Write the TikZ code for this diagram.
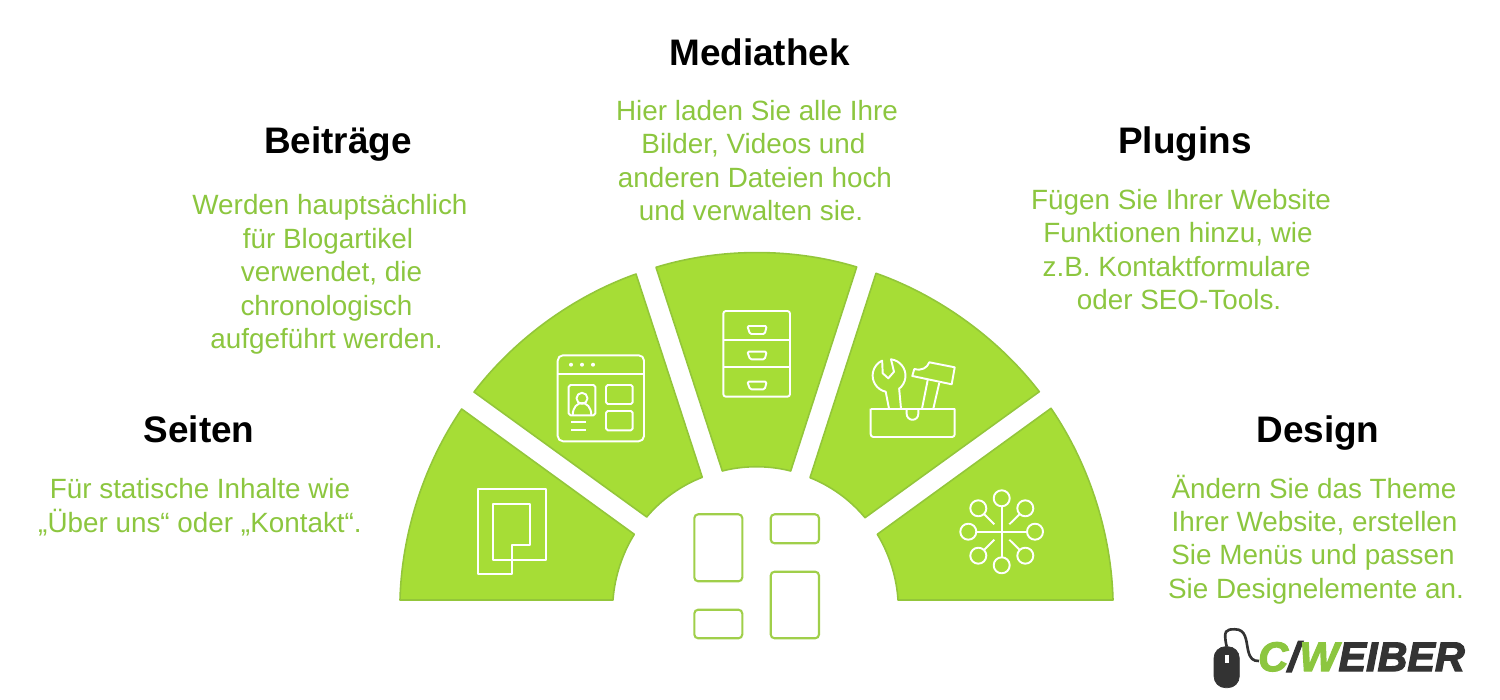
\documentclass[tikz,border=0pt]{standalone}
\usepackage{fontspec}
\setmainfont{Liberation Sans}
\newfontfamily\logofont[FakeBold=3]{Liberation Sans}
\definecolor{sectorfill}{HTML}{A6DD36}
\definecolor{sectorline}{HTML}{93C63A}
\definecolor{bodygreen}{HTML}{8CC63F}
\definecolor{slotline}{HTML}{A0CF4A}
\definecolor{logodark}{HTML}{333333}
\begin{document}
\begin{tikzpicture}[scale=0.2]
\tikzstyle{every node}+=[inner sep=0pt]
\tikzstyle{sector}=[fill=sectorfill,draw=sectorline,line width=0.9pt,line join=round]
\tikzstyle{icon}=[draw=white,line width=1.1pt,line join=round]
\tikzstyle{slot}=[draw=slotline,line width=1.2pt,rounded corners=2.2pt]
\tikzstyle{headtext}=[font=\bfseries\fontsize{21}{24}\selectfont,text=black]
\tikzstyle{bodytext}=[font=\fontsize{15.85}{19}\selectfont,text=bodygreen,align=center]
\useasboundingbox (0,0) rectangle (150,-70);
\draw [sector] (40,-60) to[bend left=16.5,looseness=.85] (46.17,-40.9) -- (63.43,-53.43) to[bend right=14,looseness=.85] (61.3,-60) -- cycle;
\draw [sector] (47.4,-39.2) to[bend left=16.5,looseness=.85] (63.6,-27.4) -- (70.23,-47.73) to[bend right=14.5,looseness=.85] (64.67,-51.7) -- cycle;
\draw [sector] (65.6,-26.73) to[bend left=17,looseness=.85] (85.67,-26.7) -- (79.07,-47.1) to[bend right=14.5,looseness=.85] (72.23,-47.1) -- cycle;
\draw [sector] (87.6,-27.33) to[bend left=16.5,looseness=.85] (103.93,-39.17) -- (86.5,-51.77) to[bend right=14.5,looseness=.85] (81,-47.77) -- cycle;
\draw [sector] (105.1,-40.83) to[bend left=16.5,looseness=.85] (111.3,-60) -- (89.8,-60) to[bend right=14,looseness=.85] (87.73,-53.43) -- cycle;
\draw [icon] (47.77,-48.9) -- (54.57,-48.9) -- (54.57,-56) -- (51.17,-56) -- (51.17,-57.43) -- (47.77,-57.43) -- cycle;
\draw [icon] (49.27,-50.4) -- (53.03,-50.4) -- (53.03,-54.5) -- (51.17,-54.5) -- (51.17,-56) -- (49.27,-56) -- cycle;
\draw [icon,rounded corners=3pt] (55.77,-35.53) rectangle (64.4,-44.13);
\draw [icon] (55.77,-37.4) -- (64.4,-37.4);
\fill [white] (57.1,-36.47) circle (0.2);
\fill [white] (58.2,-36.47) circle (0.2);
\fill [white] (59.3,-36.47) circle (0.2);
\draw [icon,rounded corners=1pt] (56.87,-38.5) rectangle (59.53,-41.53);
\draw [icon] (58.2,-39.83) circle (0.55);
\draw [icon] (57.27,-41.53) .. controls (57.27,-39.9) and (59.13,-39.9) .. (59.13,-41.53);
\draw [icon,rounded corners=1pt] (60.6,-38.5) rectangle (63.27,-40.4);
\draw [icon,rounded corners=1pt] (60.6,-41.1) rectangle (63.27,-43.03);
\draw [icon] (57.1,-42.23) -- (58.6,-42.23);
\draw [icon] (57.1,-42.97) -- (58.6,-42.97);
\draw [icon,rounded corners=1.5pt] (72.33,-31.1) rectangle (79,-39.67);
\draw [icon] (72.33,-34.03) -- (79,-34.03);
\draw [icon] (72.33,-36.73) -- (79,-36.73);
\draw [icon,rounded corners=0.8pt] (74.73,-32.6) -- (76.67,-32.6) -- (76.47,-33.4) -- (75,-33.4) -- cycle;
\draw [icon,rounded corners=0.8pt] (74.73,-35.17) -- (76.67,-35.17) -- (76.47,-35.93) -- (75,-35.93) -- cycle;
\draw [icon,rounded corners=0.8pt] (74.73,-38.17) -- (76.67,-38.17) -- (76.47,-38.93) -- (75,-38.93) -- cycle;
\draw [icon,rounded corners=1.5pt] (87.07,-40.87) -- (87.07,-43.7) -- (95.47,-43.7) -- (95.47,-40.87);
\draw [icon] (87.07,-40.87) -- (95.47,-40.87);
\draw [icon] (90.67,-40.87) -- (90.67,-41.4) arc (180:360:0.58) -- (91.83,-40.87);
\draw [icon] (92.2,-40.87) -- (92.77,-38);
\draw [icon] (93.33,-40.87) -- (93.93,-38.27);
\draw [icon] (91.23,-37.6) -- (91.43,-36.9) .. controls (92.2,-37.1) and (92.7,-36.8) .. (92.93,-36.23) -- (95.47,-36.73) -- (95.17,-38.43) -- cycle;
\draw [icon] (88.9,-40.87) -- (88.57,-39.17) arc (258:115:1.65) -- (88.27,-37.33) -- (88.83,-37.83) -- (89.4,-37.17) -- (89.1,-35.93) arc (83:-52:1.65) -- (90.1,-40.87);
\draw [icon] (100.17,-49.83) circle (0.8);
\draw [icon] (100.17,-56.53) circle (0.8);
\draw [icon] (103.5,-53.17) circle (0.8);
\draw [icon] (96.83,-53.17) circle (0.8);
\draw [icon] (102.53,-50.83) circle (0.8);
\draw [icon] (97.83,-50.83) circle (0.8);
\draw [icon] (102.53,-55.57) circle (0.8);
\draw [icon] (97.83,-55.57) circle (0.8);
\draw [icon] (100.17,-50.63) -- (100.17,-55.73);
\draw [icon] (97.63,-53.17) -- (102.7,-53.17);
\draw [icon] (98.4,-51.4) -- (99.43,-52.43);
\draw [icon] (101.97,-51.4) -- (100.93,-52.43);
\draw [icon] (98.4,-55) -- (99.43,-53.97);
\draw [icon] (101.97,-55) -- (100.93,-53.97);
\draw [slot] (69.43,-51.43) rectangle (74.23,-58.13);
\draw [slot] (69.43,-60.97) rectangle (74.23,-63.83);
\draw [slot] (77.07,-51.43) rectangle (81.9,-54.33);
\draw [slot] (77.07,-57.17) rectangle (81.9,-63.83);
\node [headtext] (seitenhead) at (19.9,-42.9) {Seiten};
\node [bodytext] (seitenbody) at (20,-50.7) {Für statische Inhalte wie\\„Über uns“ oder „Kontakt“.};
\node [headtext] (beitraegehead) at (33.8,-14.4) {Beiträge};
\node [bodytext] (beitraegebody) at (33,-27.45) {Werden hauptsächlich\\für Blogartikel\kern2.3pt\\\kern1.7pt verwendet, die\\chronologisch\kern4pt\\aufgeführt werden.\kern4pt};
\node [headtext] (mediathekhead) at (75.95,-5.2) {Mediathek};
\node [bodytext] (mediathekbody) at (75.7,-16.05) {Hier laden Sie alle Ihre\\Bilder, Videos und\kern4pt\\anderen Dateien hoch\kern2.3pt\\und verwalten sie.\kern6.8pt};
\node [headtext] (pluginshead) at (118.5,-14.4) {Plugins};
\node [bodytext] (pluginsbody) at (118.1,-24.95) {Fügen Sie Ihrer Website\\Funktionen hinzu, wie\kern3.4pt\\z.B. Kontaktformulare\kern5pt\\oder SEO-Tools.\kern2.3pt};
\node [headtext] (designhead) at (131.8,-43.3) {Design};
\node [bodytext] (designbody) at (131.6,-53.95) {Ändern Sie das Theme\kern2.3pt\\Ihrer Website, erstellen\kern1.7pt\\Sie Menüs und passen\kern3.4pt\\Sie Designelemente an.};
\draw [logodark,line width=1.5pt] (122.67,-64.67) .. controls (122.3,-63) and (122.6,-62.93) .. (123.5,-62.93) .. controls (124.6,-62.93) and (124.6,-64) .. (124.8,-65) .. controls (125,-65.9) and (125.3,-66.1) .. (125.9,-66.1);
\draw [fill=logodark,draw=logodark,rounded corners=6.5pt] (121.4,-64.67) rectangle (123.93,-68.77);
\fill [white] (122.5,-65.5) rectangle (122.93,-66.27);
\node [font=\logofont\bfseries\itshape\fontsize{23.5}{26}\selectfont,text=logodark] (logotext) at (136.15,-65.65) {\textcolor{bodygreen}{C}/\textcolor{bodygreen}{W}EIBER};
\end{tikzpicture}
\end{document}
